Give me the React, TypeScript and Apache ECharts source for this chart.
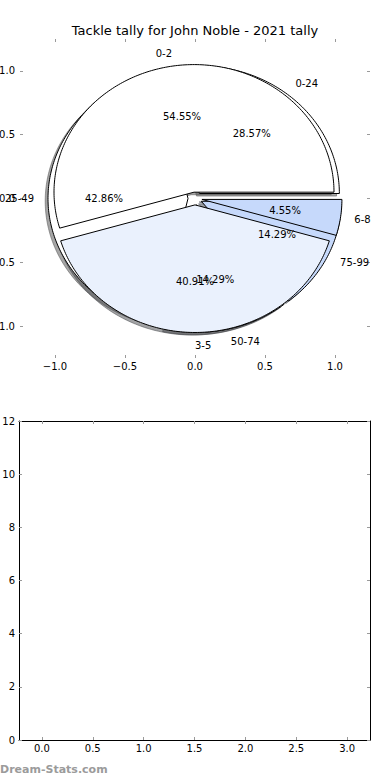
import React, { useEffect, useRef } from 'react';
import * as echarts from 'echarts';

// ---- data ----
const titleText = 'Tackle tally for John Noble - 2021 tally';
const tallyLabels = ['0-2', '3-5', '6-8'];
const tallyValues = [12, 9, 1];
const rangeLabels = ['0-24', '25-49', '50-74', '75-99'];
const rangeValues = [2, 3, 1, 1];
const pieTicks = [-1, -0.5, 0, 0.5, 1];
const lowerXTicks = [0, 0.5, 1, 1.5, 2, 2.5, 3];
const lowerYTicks = [0, 2, 4, 6, 8, 10, 12];
const watermark = 'Dream-Stats.com';

// ---- styles ----
const tallyColors = ['#ffffff', '#eaf1fd', '#c6d9fb'];
const rangeColors = ['#ffffff', '#ffffff', '#eaf1fd', '#c6d9fb'];
const FONT = "'DejaVu Sans', sans-serif";
const TICK = '#9a9a9a';
const EXPLODE = 0.05;
const RADIUS = 1;
const SHADOW_OFF = -0.02;
const LABEL_DIST = 1.1;
const PCT_DIST = 0.6;

type Wedge = { cx: number; cy: number; t1: number; t2: number; mid: number; color: string; label: string; pct: string };

function buildWedges(values: number[], labels: string[], colors: string[]): Wedge[] {
  const total = values.reduce((a, b) => a + b, 0);
  let acc = 0;
  return values.map((v, i) => {
    const t1 = (acc / total) * 360;
    acc += v;
    const t2 = (acc / total) * 360;
    const mid = ((t1 + t2) / 2) * Math.PI / 180;
    return {
      cx: EXPLODE * Math.cos(mid),
      cy: EXPLODE * Math.sin(mid),
      t1, t2, mid,
      color: colors[i % colors.length],
      label: labels[i],
      pct: ((v / total) * 100).toFixed(2) + '%',
    };
  });
}

const rangeWedges = buildWedges(rangeValues, rangeLabels, rangeColors);
const tallyWedges = buildWedges(tallyValues, tallyLabels, tallyColors);
const allWedges = [...rangeWedges, ...tallyWedges];

type Lbl = { x: number; y: number; text: string; align: string };
const labelItems: Lbl[] = [];
allWedges.forEach((w) => {
  const c = Math.cos(w.mid);
  const s = Math.sin(w.mid);
  labelItems.push({ x: w.cx + LABEL_DIST * RADIUS * c, y: w.cy + LABEL_DIST * RADIUS * s, text: w.label, align: c > -1e-9 ? 'left' : 'right' });
  labelItems.push({ x: w.cx + PCT_DIST * RADIUS * c, y: w.cy + PCT_DIST * RADIUS * s, text: w.pct, align: 'center' });
});

function shade(hex: string): string {
  const h = hex.replace('#', '');
  const r = parseInt(h.slice(0, 2), 16) * 0.3;
  const g = parseInt(h.slice(2, 4), 16) * 0.3;
  const b = parseInt(h.slice(4, 6), 16) * 0.3;
  return `rgb(${Math.round(r)},${Math.round(g)},${Math.round(b)})`;
}

function wedgePoints(api: any, w: Wedge, ox: number, oy: number) {
  const pts: number[][] = [api.coord([w.cx + ox, w.cy + oy])];
  const n = Math.max(2, Math.ceil(w.t2 - w.t1));
  for (let k = 0; k <= n; k++) {
    const a = ((w.t1 + ((w.t2 - w.t1) * k) / n) * Math.PI) / 180;
    pts.push(api.coord([w.cx + ox + RADIUS * Math.cos(a), w.cy + oy + RADIUS * Math.sin(a)]));
  }
  return pts;
}

const fmtPie = (v: number) => (v < 0 ? '\u2212' : '') + Math.abs(v).toFixed(1);

function tickAxis(extra: any) {
  return {
    type: 'value',
    splitLine: { show: false },
    axisLine: { show: false, onZero: false },
    ...extra,
  };
}

export default function App() {
  const ref = useRef<HTMLDivElement>(null);
  useEffect(() => {
    if (!ref.current) return;
    const chart = echarts.init(ref.current, null, { renderer: 'svg' });
    const tickStyle = { show: true, inside: true, length: 3, lineStyle: { color: TICK, width: 1 } };
    const labelStyle = { fontFamily: FONT, fontSize: 10, color: '#000' };
    const spine = { show: true, onZero: false, lineStyle: { color: '#000', width: 1 } };

    const option: any = {
      animation: false,
      backgroundColor: '#fff',
      title: {
        text: titleText,
        left: 'center',
        top: 19,
        textStyle: { fontFamily: FONT, fontSize: 13, fontWeight: 'normal', color: '#000' },
      },
      grid: [
        { left: 20, top: 39, width: 350, height: 319, outerBoundsMode: 'none', containLabel: false },
        { left: 19, top: 421, width: 351, height: 319, outerBoundsMode: 'none', containLabel: false },
      ],
      xAxis: [
        tickAxis({ gridIndex: 0, position: 'bottom', min: -1.25, max: 1.25,
          axisTick: { ...tickStyle, customValues: pieTicks },
          axisLabel: { ...labelStyle, margin: 3, customValues: pieTicks, formatter: fmtPie } }),
        tickAxis({ gridIndex: 0, position: 'top', min: -1.25, max: 1.25,
          axisTick: { ...tickStyle, customValues: pieTicks }, axisLabel: { show: false } }),
        tickAxis({ gridIndex: 1, position: 'bottom', min: -0.225, max: 3.225, axisLine: spine,
          axisTick: { ...tickStyle, customValues: lowerXTicks },
          axisLabel: { ...labelStyle, margin: 3, customValues: lowerXTicks, formatter: (v: number) => v.toFixed(1) } }),
        tickAxis({ gridIndex: 1, position: 'top', min: -0.225, max: 3.225, axisLine: spine,
          axisTick: { ...tickStyle, customValues: lowerXTicks }, axisLabel: { show: false } }),
      ],
      yAxis: [
        tickAxis({ gridIndex: 0, position: 'left', min: -1.25, max: 1.25,
          axisTick: { ...tickStyle, customValues: pieTicks },
          axisLabel: { ...labelStyle, margin: 5, customValues: pieTicks, formatter: fmtPie } }),
        tickAxis({ gridIndex: 0, position: 'right', min: -1.25, max: 1.25,
          axisTick: { ...tickStyle, customValues: pieTicks }, axisLabel: { show: false } }),
        tickAxis({ gridIndex: 1, position: 'left', min: 0, max: 12, interval: 2, axisLine: spine,
          axisTick: { ...tickStyle, customValues: lowerYTicks },
          axisLabel: { ...labelStyle, margin: 4, customValues: lowerYTicks, formatter: (v: number) => String(v) } }),
        tickAxis({ gridIndex: 1, position: 'right', min: 0, max: 12, interval: 2, axisLine: spine,
          axisTick: { ...tickStyle, customValues: lowerYTicks }, axisLabel: { show: false } }),
      ],
      graphic: [
        {
          type: 'text',
          left: 0,
          top: 764,
          style: { text: watermark, fill: '#9b9b9b', font: `bold 11px ${FONT}` },
        },
      ],
      series: [
        {
          type: 'custom',
          name: 'shadows',
          coordinateSystem: 'cartesian2d',
          xAxisIndex: 0,
          yAxisIndex: 0,
          clip: false,
          z: 1,
          data: allWedges.map((w) => [w.cx, w.cy]),
          renderItem: (params: any, api: any) => {
            const w = allWedges[params.dataIndex];
            const c = shade(w.color);
            return {
              type: 'polygon',
              shape: { points: wedgePoints(api, w, SHADOW_OFF, SHADOW_OFF) },
              style: { fill: c, stroke: c, lineWidth: 1, opacity: 0.5 },
            };
          },
        },
        ...[rangeWedges, tallyWedges].map((ws, si) => ({
          type: 'custom',
          name: si === 0 ? 'ranges' : 'tally',
          coordinateSystem: 'cartesian2d',
          xAxisIndex: 0,
          yAxisIndex: 0,
          clip: false,
          z: 2 + si,
          data: ws.map((w) => [w.cx, w.cy]),
          renderItem: (params: any, api: any) => {
            const w = ws[params.dataIndex];
            return {
              type: 'polygon',
              shape: { points: wedgePoints(api, w, 0, 0) },
              style: { fill: w.color, stroke: '#000', lineWidth: 1 },
            };
          },
        })),
        {
          type: 'custom',
          name: 'labels',
          coordinateSystem: 'cartesian2d',
          xAxisIndex: 0,
          yAxisIndex: 0,
          clip: false,
          z: 5,
          data: labelItems.map((l) => [l.x, l.y]),
          renderItem: (params: any, api: any) => {
            const l = labelItems[params.dataIndex];
            const p = api.coord([l.x, l.y]);
            return {
              type: 'text',
              x: p[0],
              y: p[1],
              style: { text: l.text, align: l.align, verticalAlign: 'middle', fontFamily: FONT, fontSize: 10, fill: '#000' },
            };
          },
        },
        {
          type: 'line',
          xAxisIndex: 2,
          yAxisIndex: 2,
          data: [],
        },
      ],
    };
    chart.setOption(option);
    return () => chart.dispose();
  }, []);
  return <div ref={ref} style={{ position: 'absolute', left: 0, top: 0, width: 390, height: 780 }} />;
}
